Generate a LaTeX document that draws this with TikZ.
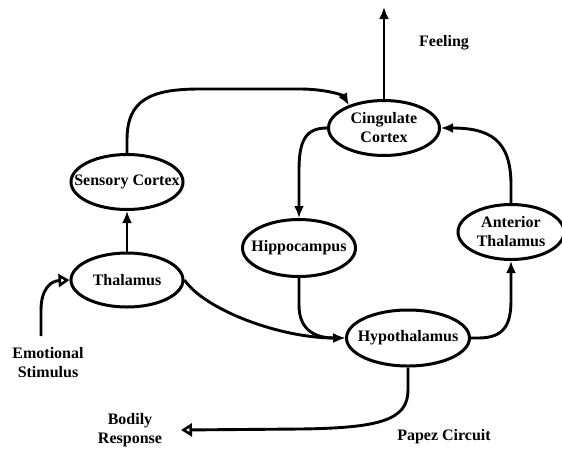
\documentclass[tikz,border=0pt]{standalone}
\usepackage{fontspec}
\setmainfont{Liberation Serif}
\usetikzlibrary{shapes.geometric,arrows.meta}
\begin{document}
\begin{tikzpicture}[x=1pt,y=-1pt,
  ell/.style={draw,ellipse,line width=3pt,inner sep=0pt,minimum width=112pt,minimum height=55pt},
  lbl/.style={font=\bfseries\fontsize{16}{19}\selectfont,align=center,inner sep=0pt},
  conn/.style={line width=2.9pt,-{Latex[length=12pt,width=10pt]}},
  openconn/.style={line width=2.9pt,-{Triangle[open,length=11pt,width=13pt,line width=2.6pt]}}]
\useasboundingbox (0,0) rectangle (562,448);
% ellipses
\node[ell] (sc) at (127,182) {};
\node[lbl] at (sc) {Sensory Cortex};
\node[ell,minimum width=111pt] (cc) at (384,128) {};
\node[lbl] at (cc) {Cingulate\\Cortex};
\node[ell,minimum height=54pt] (th) at (127,280) {};
\node[lbl] at (th) {Thalamus};
\node[ell,minimum width=113pt,minimum height=57pt] (hc) at (299,248) {};
\node[lbl] at (hc) {Hippocampus};
\node[ell,minimum width=106pt] (at) at (511,232) {};
\node[lbl] at (at) {Anterior\\Thalamus};
\node[ell,minimum width=123pt,minimum height=56pt] (hy) at (408,338) {};
\node[lbl] at (hy) {Hypothalamus};
% free labels
\node[lbl] (feel) at (444,43) {Feeling};
\node[lbl] (es) at (48,363) {Emotional\\Stimulus};
\node[lbl] (br) at (130,430) {Bodily\\Response};
\node[lbl] (pc) at (444,437) {Papez Circuit};
% free ends
\coordinate (feelend) at (384,7);
\coordinate (esstart) at (41,336);
\coordinate (brend) at (181,430);
% connectors
\draw[conn] (sc.north) -- (127,140) .. controls (127,100) and (150,89) .. (200,89) -- (300,89) .. controls (325,89) and (343,95) .. (cc.147);
\draw[conn] (cc.north) -- (feelend);
\draw[conn] (cc.west) .. controls (306,128) and (299,140) .. (299,170) -- (hc.north);
\draw[conn] (at.north) -- (511,185) .. controls (511,140) and (490,128) .. (cc.east);
\draw[conn] (hy.east) -- (478,338) .. controls (504,338) and (511,325) .. (511,300) -- (at.south);
\draw[openconn] (hy.south) -- (408,390) .. controls (408,420) and (380,428) .. (300,429) -- (brend);
\draw[openconn] (esstart) -- (41,310) .. controls (41,290) and (50,281) .. (th.west);
\draw[conn] (th.north) -- (sc.south);
\draw[conn] (th.east) .. controls (205,310) and (280,338) .. (hy.west);
\draw[conn] (hc.south) -- (299,305) .. controls (299,330) and (315,338) .. (hy.west);
\end{tikzpicture}
\end{document}
